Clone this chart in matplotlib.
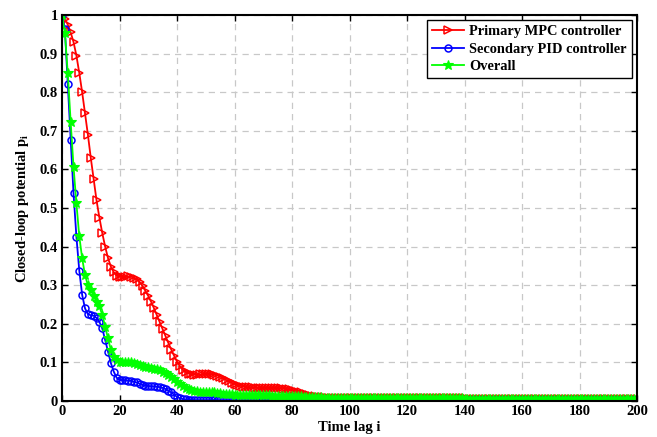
import numpy as np
import matplotlib
matplotlib.use('Agg')
import matplotlib.pyplot as plt

plt.rcParams['font.family'] = ['Liberation Serif', 'DejaVu Serif']
plt.rcParams['font.weight'] = 'bold'
plt.rcParams['mathtext.fontset'] = 'custom'
plt.rcParams['mathtext.rm'] = 'Liberation Serif:bold'
plt.rcParams['mathtext.it'] = 'Liberation Serif:bold'

lags = np.arange(0, 201)

# Primary MPC controller
p_mpc = [
    1.000, 0.990, 0.975, 0.955, 0.930, 0.895, 0.850, 0.800, 0.745, 0.690,
    0.630, 0.575, 0.520, 0.475, 0.435, 0.400, 0.370, 0.348, 0.333, 0.325,
    0.322, 0.321, 0.322, 0.323, 0.322, 0.319, 0.315, 0.308, 0.298, 0.285,
    0.272, 0.257, 0.240, 0.222, 0.204, 0.186, 0.168, 0.150, 0.133, 0.117,
    0.102, 0.090, 0.081, 0.075, 0.071, 0.069, 0.068, 0.068, 0.069, 0.070,
    0.070, 0.070, 0.069, 0.068, 0.066, 0.063, 0.059, 0.055, 0.051, 0.047,
    0.044, 0.041, 0.039, 0.037, 0.036, 0.035, 0.035, 0.034, 0.034, 0.034,
    0.034, 0.034, 0.034, 0.034, 0.034, 0.033, 0.033, 0.032, 0.031, 0.030,
    0.028, 0.026, 0.024, 0.022, 0.019, 0.017, 0.015, 0.013, 0.012, 0.011,
    0.010, 0.010, 0.009, 0.009, 0.009, 0.009, 0.009, 0.009, 0.009, 0.009,
    0.009, 0.009, 0.009, 0.009, 0.009, 0.009, 0.009, 0.009, 0.009, 0.009,
    0.009, 0.009, 0.009, 0.009, 0.009, 0.009, 0.009, 0.008, 0.008, 0.008,
    0.008, 0.008, 0.008, 0.008, 0.008, 0.008, 0.008, 0.008, 0.008, 0.008,
    0.008, 0.008, 0.008, 0.007, 0.007, 0.007, 0.007, 0.007, 0.007, 0.007,
    0.007, 0.006, 0.006, 0.006, 0.006, 0.006, 0.006, 0.006, 0.006, 0.006,
    0.005, 0.005, 0.005, 0.005, 0.005, 0.005, 0.005, 0.005, 0.005, 0.005,
    0.005, 0.005, 0.005, 0.005, 0.005, 0.005, 0.005, 0.005, 0.005, 0.005,
    0.005, 0.005, 0.005, 0.005, 0.005, 0.005, 0.005, 0.005, 0.005, 0.005,
    0.005, 0.005, 0.005, 0.005, 0.005, 0.005, 0.005, 0.005, 0.005, 0.005,
    0.005, 0.005, 0.005, 0.005, 0.005, 0.005, 0.005, 0.005, 0.005, 0.005,
    0.005,
]

# Secondary PID controller
p_pid = [
    1.000, 0.963, 0.820, 0.676, 0.538, 0.426, 0.338, 0.275, 0.240, 0.225,
    0.222, 0.221, 0.215, 0.205, 0.188, 0.158, 0.128, 0.098, 0.076, 0.060,
    0.055, 0.054, 0.054, 0.053, 0.052, 0.050, 0.048, 0.045, 0.042, 0.040,
    0.039, 0.038, 0.038, 0.037, 0.036, 0.034, 0.031, 0.027, 0.022, 0.016,
    0.011, 0.007, 0.005, 0.004, 0.003, 0.003, 0.002, 0.002, 0.002, 0.002,
    0.002, 0.002, 0.002, 0.002, 0.002, 0.002, 0.002, 0.002, 0.002, 0.002,
    0.002, 0.002, 0.002, 0.002, 0.002, 0.002, 0.002, 0.002, 0.002, 0.002,
    0.002, 0.002, 0.002, 0.002, 0.002, 0.002, 0.002, 0.002, 0.002, 0.002,
    0.002, 0.002, 0.002, 0.002, 0.002, 0.002, 0.002, 0.002, 0.002, 0.002,
    0.002, 0.002, 0.002, 0.002, 0.002, 0.002, 0.002, 0.002, 0.002, 0.002,
    0.002, 0.002, 0.002, 0.002, 0.002, 0.002, 0.002, 0.002, 0.002, 0.002,
    0.002, 0.002, 0.002, 0.002, 0.002, 0.002, 0.002, 0.002, 0.002, 0.002,
    0.002, 0.002, 0.002, 0.002, 0.002, 0.002, 0.002, 0.002, 0.002, 0.002,
    0.002, 0.002, 0.002, 0.002, 0.002, 0.002, 0.002, 0.002, 0.002, 0.002,
    0.002, 0.002, 0.002, 0.002, 0.002, 0.002, 0.002, 0.002, 0.002, 0.002,
    0.002, 0.002, 0.002, 0.002, 0.002, 0.002, 0.002, 0.002, 0.002, 0.002,
    0.002, 0.002, 0.002, 0.002, 0.002, 0.002, 0.002, 0.002, 0.002, 0.002,
    0.002, 0.002, 0.002, 0.002, 0.002, 0.002, 0.002, 0.002, 0.002, 0.002,
    0.002, 0.002, 0.002, 0.002, 0.002, 0.002, 0.002, 0.002, 0.002, 0.002,
    0.002, 0.002, 0.002, 0.002, 0.002, 0.002, 0.002, 0.002, 0.002, 0.002,
    0.002,
]

# Overall
p_all = [
    1.000, 0.953, 0.849, 0.724, 0.607, 0.512, 0.427, 0.370, 0.326, 0.300,
    0.288, 0.272, 0.257, 0.245, 0.223, 0.192, 0.162, 0.132, 0.115, 0.105,
    0.100, 0.100, 0.101, 0.101, 0.100, 0.099, 0.097, 0.094, 0.091, 0.089,
    0.087, 0.085, 0.084, 0.082, 0.079, 0.076, 0.072, 0.067, 0.062, 0.056,
    0.050, 0.044, 0.038, 0.034, 0.030, 0.028, 0.026, 0.025, 0.024, 0.024,
    0.023, 0.023, 0.022, 0.022, 0.021, 0.020, 0.019, 0.018, 0.017, 0.017,
    0.016, 0.016, 0.016, 0.015, 0.015, 0.015, 0.015, 0.015, 0.015, 0.015,
    0.015, 0.015, 0.015, 0.014, 0.014, 0.014, 0.014, 0.014, 0.013, 0.013,
    0.013, 0.012, 0.012, 0.012, 0.011, 0.011, 0.011, 0.010, 0.010, 0.010,
    0.010, 0.009, 0.009, 0.009, 0.009, 0.009, 0.009, 0.009, 0.009, 0.009,
    0.008, 0.008, 0.008, 0.008, 0.008, 0.008, 0.008, 0.008, 0.008, 0.008,
    0.008, 0.008, 0.008, 0.008, 0.008, 0.008, 0.008, 0.008, 0.008, 0.008,
    0.007, 0.007, 0.007, 0.007, 0.007, 0.007, 0.007, 0.007, 0.007, 0.007,
    0.007, 0.007, 0.007, 0.007, 0.007, 0.007, 0.007, 0.007, 0.007, 0.007,
    0.006, 0.006, 0.006, 0.006, 0.006, 0.006, 0.006, 0.006, 0.006, 0.006,
    0.006, 0.006, 0.006, 0.006, 0.006, 0.006, 0.006, 0.006, 0.006, 0.006,
    0.006, 0.006, 0.006, 0.006, 0.006, 0.006, 0.006, 0.006, 0.006, 0.006,
    0.006, 0.006, 0.006, 0.006, 0.006, 0.006, 0.006, 0.006, 0.006, 0.006,
    0.006, 0.006, 0.006, 0.006, 0.006, 0.006, 0.006, 0.006, 0.006, 0.006,
    0.006, 0.006, 0.006, 0.006, 0.006, 0.006, 0.006, 0.006, 0.006, 0.006,
    0.006,
]

x_ticks = np.arange(0, 201, 20)
y_ticks = np.arange(0, 1.01, 0.1)
y_tick_labels = ['0', '0.1', '0.2', '0.3', '0.4', '0.5', '0.6', '0.7', '0.8', '0.9', '1']

fig = plt.figure(figsize=(6.57, 4.37), dpi=100)
ax = fig.add_axes([0.0944, 0.0824, 0.8752, 0.8833])

ax.plot(lags, p_mpc, color='red', lw=1.3, marker='>', ms=6, mfc='none', mew=1.1,
        label='Primary MPC controller')
ax.plot(lags, p_pid, color='blue', lw=1.3, marker='o', ms=5, mfc='none', mew=1.1,
        label='Secondary PID controller')
ax.plot(lags, p_all, color='#00ff00', lw=1.3, marker='*', ms=7.5, mfc='#00ff00', mew=0.8,
        label='Overall')

ax.set_xlim(0, 200)
ax.set_ylim(0, 1)
ax.set_xticks(x_ticks)
ax.set_yticks(y_ticks)
ax.set_yticklabels(y_tick_labels)
ax.tick_params(direction='in', top=True, right=True, labelsize=10.5, length=4, width=1, pad=3)
for s in ax.spines.values():
    s.set_linewidth(1.5)
ax.grid(True, color='#c8c8c8', linestyle=(0, (5, 4)), linewidth=0.9)

ax.set_xlabel('Time lag i', fontsize=10.5, fontweight='bold', labelpad=2)
ax.set_ylabel('Closed-loop potential p$_\\mathrm{i}$', fontsize=10.5, fontweight='bold', labelpad=6)

leg = ax.legend(loc='upper right', fontsize=10.4, fancybox=False, edgecolor='black',
                framealpha=1, borderaxespad=0.35, handlelength=2.2, borderpad=0.35,
                labelspacing=0.3, handletextpad=0.4)
leg.get_frame().set_linewidth(1.0)

fig.savefig('out.png', dpi=100)
